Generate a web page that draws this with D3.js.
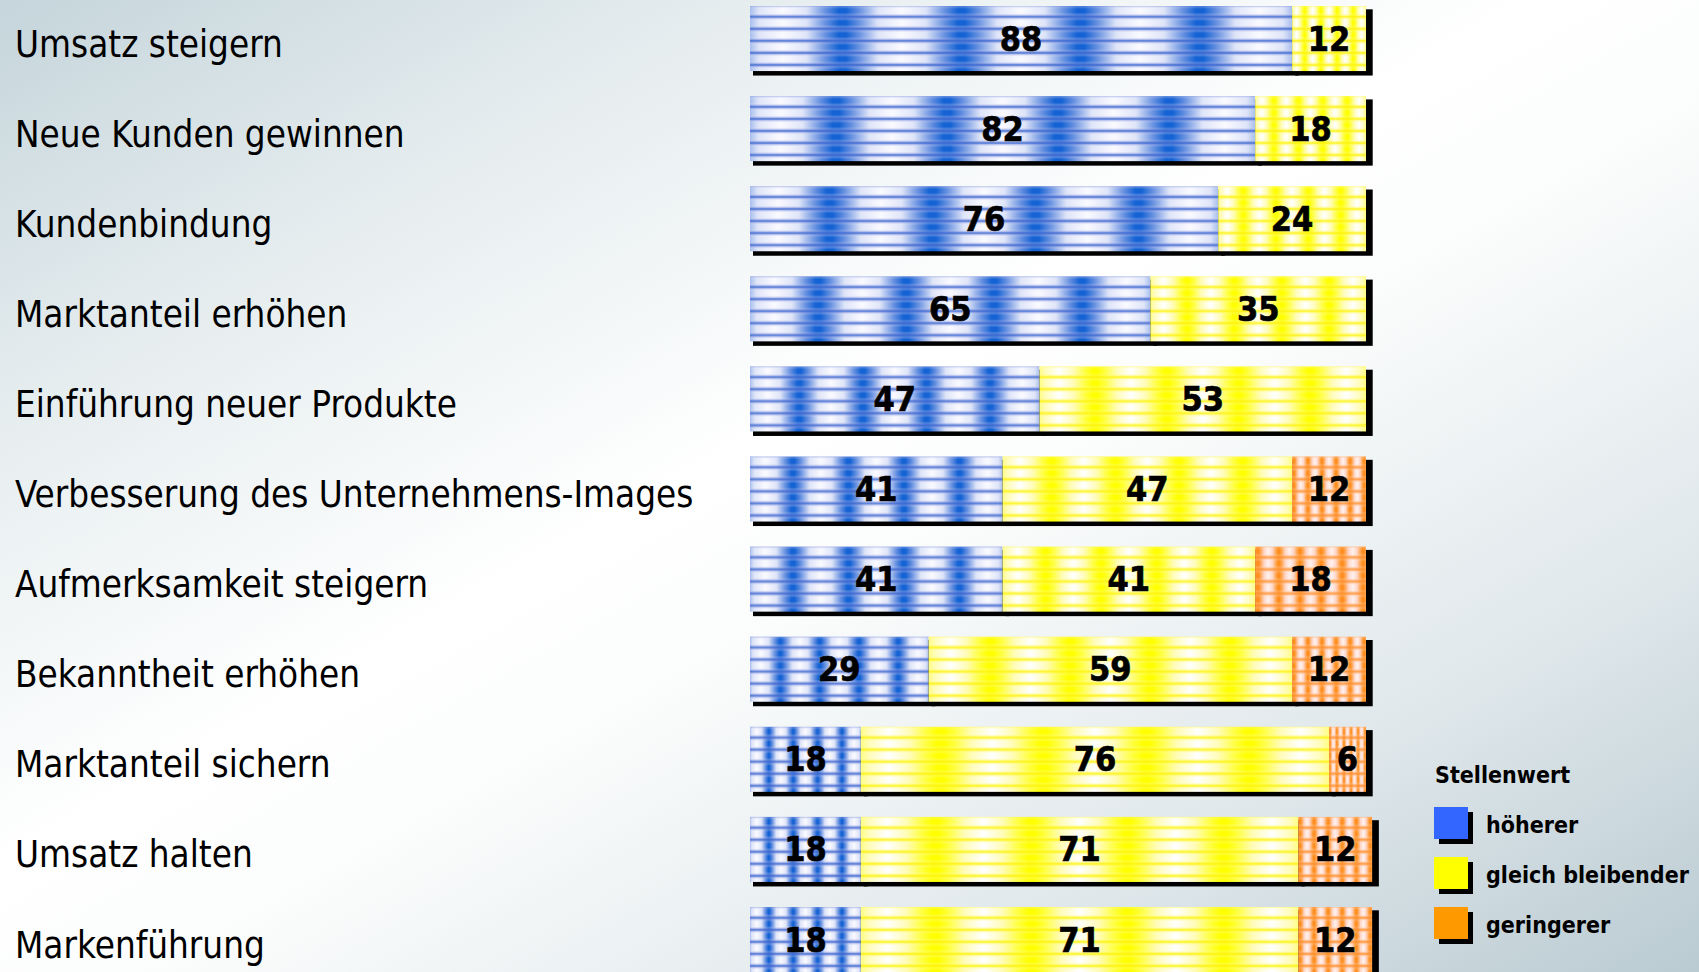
<!DOCTYPE html>
<html>
<head>
<meta charset="utf-8">
<script src="https://cdn.jsdelivr.net/npm/d3@7/dist/d3.min.js"></script>
<style>
  html, body { margin: 0; padding: 0; overflow: hidden; }
  svg { display: block; }
  .lbl { font-family: "DejaVu Sans Condensed", "DejaVu Sans", sans-serif; font-stretch: condensed; }
</style>
</head>
<body>
<svg id="chart" width="1699" height="972"></svg>
<script>
const categories = [
  "Umsatz steigern",
  "Neue Kunden gewinnen",
  "Kundenbindung",
  "Marktanteil erhöhen",
  "Einführung neuer Produkte",
  "Verbesserung des Unternehmens-Images",
  "Aufmerksamkeit steigern",
  "Bekanntheit erhöhen",
  "Marktanteil sichern",
  "Umsatz halten",
  "Markenführung"
];
const seriesNames = ["höherer", "gleich bleibender", "geringerer"];
const hoeherer        = [88, 82, 76, 65, 47, 41, 41, 29, 18, 18, 18];
const gleichBleibend  = [12, 18, 24, 35, 53, 47, 41, 59, 76, 71, 71];
const geringerer      = [ 0,  0,  0,  0,  0, 12, 18, 12,  6, 12, 12];
const legendTitle = "Stellenwert";

const series = [hoeherer, gleichBleibend, geringerer];
const W = 1699, H = 972;
const svg = d3.select("#chart");
const defs = svg.append("defs");

// background gradient
const bg = defs.append("linearGradient").attr("id", "bg")
  .attr("gradientUnits", "userSpaceOnUse")
  .attr("x1", 0).attr("y1", 0).attr("x2", 824).attr("y2", 1464);
[[0, "#c5d5db"], [0.22, "#e6edef"], [0.45, "#ffffff"], [0.55, "#fbfcfc"], [0.78, "#e0e8eb"], [1, "#bacbd2"]]
  .forEach(([o, c]) => bg.append("stop").attr("offset", o).attr("stop-color", c));
svg.append("rect").attr("width", W).attr("height", H).attr("fill", "url(#bg)");

// pattern palettes
const palettes = [
  { edge: "#1462d4", mid: "#6690e0", light: "#dfe5f8", center: "#fafaff",
    line: "rgba(45,95,205,0.95)", lineSoft: "rgba(120,140,220,0.55)", tiles: 4.55, legend: "#3366ff" },
  { edge: "#ffff00", mid: "#ffff40", light: "#fffcb8", center: "#ffffff",
    line: "rgba(252,240,0,0.95)", lineSoft: "rgba(255,248,60,0.5)", tiles: 4.55, legend: "#ffff00" },
  { edge: "#ff8c1a", mid: "#ffa550", light: "#ffd6c8", center: "#fff2f0",
    line: "rgba(255,140,30,0.95)", lineSoft: "rgba(255,165,95,0.55)", tiles: 5.25, legend: "#ff9900" }
];
palettes.forEach((p, i) => {
  const hg = defs.append("linearGradient").attr("id", "hg" + i)
    .attr("x1", 0).attr("y1", 0).attr("x2", 1).attr("y2", 0);
  [[0, p.edge], [0.03, p.edge], [0.14, p.mid], [0.3, p.light], [0.5, p.center], [0.7, p.light], [0.86, p.mid], [0.97, p.edge], [1, p.edge]]
    .forEach(([o, c]) => hg.append("stop").attr("offset", o).attr("stop-color", c));
  const vg = defs.append("linearGradient").attr("id", "vg" + i)
    .attr("x1", 0).attr("y1", 0).attr("x2", 0).attr("y2", 1);
  [[0, p.line], [0.1, p.lineSoft], [0.32, "rgba(255,255,255,0)"], [0.68, "rgba(255,255,255,0)"], [0.88, p.lineSoft], [1, p.line]]
    .forEach(([o, c]) => vg.append("stop").attr("offset", o).attr("stop-color", c));
});

const x = d3.scaleLinear().domain([0, 100]).range([750, 1366]);
const y = d3.scaleBand().domain(categories).range([6, 6 + 11 * 90.1]).paddingInner(0).paddingOuter(0);
const barH = y.step() * 0.722;

// build segments
const segs = [];
categories.forEach((c, r) => {
  let acc = 0;
  series.forEach((s, k) => {
    const v = s[r];
    if (v > 0) segs.push({ cat: c, r, k, v, x0: acc, x1: acc + v });
    acc += v;
  });
});

// per-segment patterns (light cell centred on the segment)
segs.forEach(d => {
  const p = palettes[d.k];
  const sx = x(d.x0), sw = x(d.x1) - x(d.x0);
  const tw = sw / p.tiles, th = barH / 5.4;
  const cx = sx + sw / 2 - tw / 2;
  const pat = defs.append("pattern").attr("id", `p${d.r}_${d.k}`)
    .attr("patternUnits", "userSpaceOnUse")
    .attr("x", cx).attr("y", y(d.cat) - th * 0.1)
    .attr("width", tw).attr("height", th);
  pat.append("rect").attr("width", tw).attr("height", th).attr("fill", `url(#hg${d.k})`);
  pat.append("rect").attr("width", tw).attr("height", th).attr("fill", `url(#vg${d.k})`);
});

const g = svg.append("g");
// shadows
g.selectAll("rect.sh").data(segs).join("rect").attr("class", "sh")
  .attr("x", d => x(d.x0) + 3).attr("y", d => y(d.cat) + 3.3)
  .attr("width", d => x(d.x1) - x(d.x0) + 3.7).attr("height", barH + 1.2)
  .attr("fill", "#000");
// bars
g.selectAll("rect.seg").data(segs).join("rect").attr("class", "seg")
  .attr("x", d => x(d.x0)).attr("y", d => y(d.cat))
  .attr("width", d => x(d.x1) - x(d.x0)).attr("height", barH)
  .attr("fill", d => `url(#p${d.r}_${d.k})`);
// values
g.selectAll("text.val").data(segs).join("text").attr("class", "val lbl")
  .attr("x", d => x((d.x0 + d.x1) / 2)).attr("y", d => y(d.cat) + barH / 2 + 12)
  .attr("text-anchor", "middle").attr("font-size", 34).attr("font-weight", "bold")
  .attr("fill", "#000").attr("stroke", "#000").attr("stroke-width", 0.6).text(d => d.v);

// category labels
svg.append("g").selectAll("text").data(categories).join("text").attr("class", "lbl")
  .attr("x", 15).attr("y", d => y(d) + barH / 2 + 18)
  .attr("font-size", 36.5).attr("fill", "#000").text(d => d);

// legend
const lg = svg.append("g");
lg.append("text").attr("class", "lbl").attr("x", 1435).attr("y", 783)
  .attr("font-size", 23).attr("font-weight", "bold").text(legendTitle);
const ly = d3.scalePoint().domain(seriesNames).range([807, 907]);
seriesNames.forEach((n, i) => {
  lg.append("rect").attr("x", 1439).attr("y", ly(n) + 5).attr("width", 34).attr("height", 32).attr("fill", "#000");
  lg.append("rect").attr("x", 1434).attr("y", ly(n)).attr("width", 34).attr("height", 32).attr("fill", palettes[i].legend);
  lg.append("text").attr("class", "lbl").attr("x", 1486).attr("y", ly(n) + 26)
    .attr("font-size", 23).attr("font-weight", "bold").text(n);
});
</script>
</body>
</html>
